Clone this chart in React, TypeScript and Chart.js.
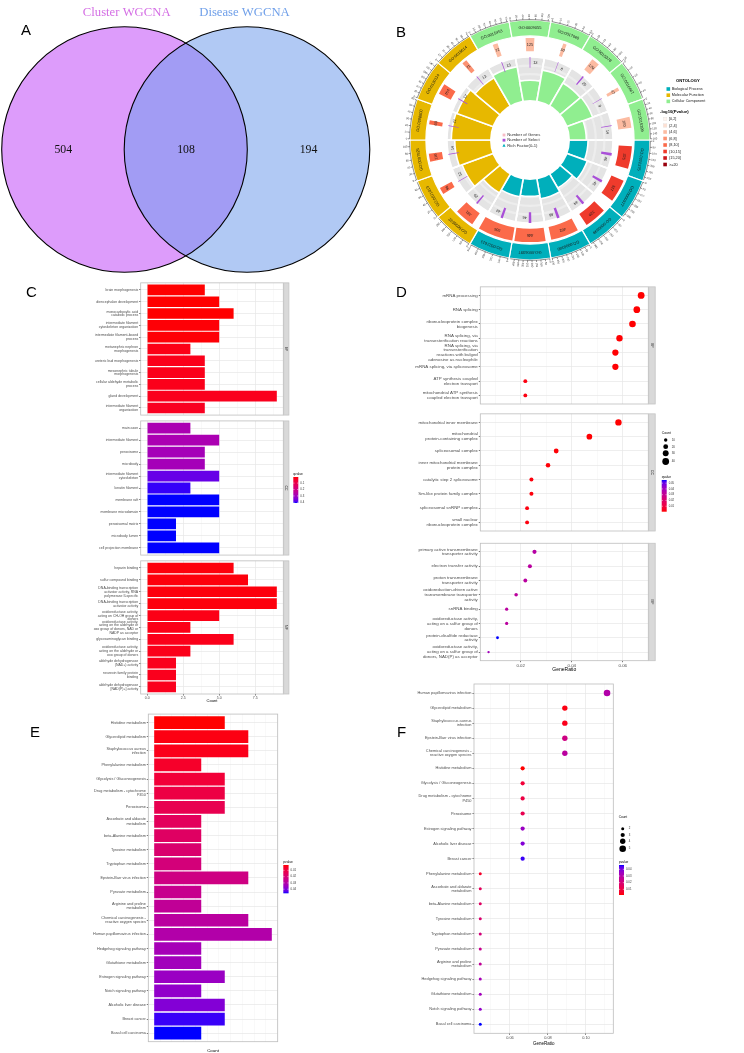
import React, { useEffect, useRef } from 'react';
import { Chart, registerables } from 'chart.js';

Chart.register(...registerables);

const SANS = "'Liberation Sans', Arial, Helvetica, sans-serif";
const SERIF = "'Liberation Serif', 'Times New Roman', Times, serif";
Chart.defaults.font.family = SANS;

/* ============================ DATA ============================ */

// Panel A – Venn diagram
const vennSetNames = ['Cluster WGCNA', 'Disease WGCNA'];
const vennRegionCounts = [504, 108, 194]; // left only, shared, right only

// Panel B – GO circle (clockwise from 3 o'clock)
const circIds = [
  'GO:0000375', 'GO:0000377', 'GO:0000398', 'GO:0008380', 'GO:0006397', 'GO:0022613',
  'GO:0030532', 'GO:0071013', 'GO:0097525', 'GO:0098800', 'GO:0120114', 'GO:0016614',
  'GO:0015453', 'GO:0009055', 'GO:0017069', 'GO:0015078', 'GO:0016667', 'GO:0015399',
];
const circOntology = [
  'BP', 'BP', 'BP', 'BP', 'BP', 'BP',
  'MF', 'MF', 'MF', 'MF', 'MF', 'MF',
  'CC', 'CC', 'CC', 'CC', 'CC', 'CC',
];
const circGenes = [325, 327, 320, 402, 446, 506, 281, 96, 116, 60, 154, 71, 72, 125, 50, 120, 47, 160];
const circSelect = [46, 45, 44, 48, 46, 42, 29, 12, 14, 11, 17, 13, 13, 13, 8, 25, 9, 14];
const circRichFactor = [0.42, 0.49, 0.36, 0.46, 0.38, 0.41, 0.49, 0.75, 0.82, 0.9, 0.88, 0.74, 0.8, 0.46, 0.72, 0.6, 0.62, 0.38];
const circLogP = [14, 13, 13, 9, 9, 9, 9, 9, 9, 9, 9, 7, 5, 5, 5, 5, 5, 5];
const logPBinLabels = ['[0,2]', '(2,4]', '(4,6]', '(6,8]', '(8,10]', '(10,15]', '(15,20]', '>=20'];
const logPBinEdges = [2, 4, 6, 8, 10, 15, 20];
const ontologyKeys = ['BP', 'MF', 'CC'];
const ontologyNames = ['Biological Process', 'Molecular Function', 'Cellular Component'];

// Panel C – GO enrichment bar chart (three facets)
const cBpTerms = [
  'brain morphogenesis', 'diencephalon development', 'monocarboxylic acid\ncatabolic process',
  'intermediate filament\ncytoskeleton organization', 'intermediate filament-based\nprocess',
  'metanephric nephron\nmorphogenesis', 'ureteric bud morphogenesis', 'mesonephric tubule\nmorphogenesis',
  'cellular aldehyde metabolic\nprocess', 'gland development', 'intermediate filament\norganization',
];
const cBpCount = [4, 5, 6, 5, 5, 3, 4, 4, 4, 9, 4];
const cBpQ = [0.005, 0.005, 0.005, 0.009, 0.009, 0.021, 0.025, 0.025, 0.025, 0.029, 0.033];
const cCcTerms = [
  'main axon', 'intermediate filament', 'peroxisome', 'microbody', 'intermediate filament\ncytoskeleton',
  'keratin filament', 'membrane raft', 'membrane microdomain', 'peroxisomal matrix', 'microbody lumen',
  'cell projection membrane',
];
const cCcCount = [3, 5, 4, 4, 5, 3, 5, 5, 2, 2, 5];
const cCcQ = [0.28, 0.28, 0.29, 0.29, 0.37, 0.4, 0.41, 0.41, 0.41, 0.41, 0.41];
const cMfTerms = [
  'heparin binding', 'sulfur compound binding',
  'DNA-binding transcription\nactivator activity, RNA\npolymerase II-specific',
  'DNA-binding transcription\nactivator activity',
  'oxidoreductase activity,\nacting on CH-OH group of\ndonors',
  'oxidoreductase activity,\nacting on the aldehyde or\noxo group of donors, NAD or\nNADP as acceptor',
  'glycosaminoglycan binding',
  'oxidoreductase activity,\nacting on the aldehyde or\noxo group of donors',
  'aldehyde dehydrogenase\n(NAD+) activity', 'neurexin family protein\nbinding',
  'aldehyde dehydrogenase\n[NAD(P)+] activity',
];
const cMfCount = [6, 7, 9, 9, 5, 3, 6, 3, 2, 2, 2];
const cMfQ = [0.013, 0.013, 0.013, 0.013, 0.021, 0.021, 0.025, 0.025, 0.029, 0.029, 0.029];
const cTicks = [0.1, 0.2, 0.3, 0.4];

// Panel D – GO enrichment dot plot (three facets)
const dBpTerms = [
  'mRNA processing', 'RNA splicing', 'ribonucleoprotein complex\nbiogenesis',
  'RNA splicing, via\ntransesterification reactions',
  'RNA splicing, via\ntransesterification\nreactions with bulged\nadenosine as nucleophile',
  'mRNA splicing, via spliceosome', 'ATP synthesis coupled\nelectron transport',
  'mitochondrial ATP synthesis\ncoupled electron transport',
];
const dBpRatio = [0.0672, 0.0655, 0.0638, 0.0587, 0.0571, 0.0571, 0.0218, 0.0218];
const dBpCount = [40, 39, 38, 35, 34, 34, 13, 13];
const dBpQ = [0.0005, 0.0006, 0.0006, 0.0007, 0.0008, 0.0008, 0.002, 0.002];
const dCcTerms = [
  'mitochondrial inner membrane', 'mitochondrial\nprotein-containing complex', 'spliceosomal complex',
  'inner mitochondrial membrane\nprotein complex', 'catalytic step 2 spliceosome',
  'Sm-like protein family complex', 'spliceosomal snRNP complex', 'small nuclear\nribonucleoprotein complex',
];
const dCcRatio = [0.0583, 0.0469, 0.0339, 0.0307, 0.0242, 0.0242, 0.0225, 0.0225];
const dCcCount = [35, 28, 20, 18, 14, 14, 13, 13];
const dCcQ = [0.0006, 0.0008, 0.001, 0.0012, 0.0015, 0.0015, 0.0018, 0.0018];
const dMfTerms = [
  'primary active transmembrane\ntransporter activity', 'electron transfer activity',
  'proton transmembrane\ntransporter activity',
  'oxidoreduction-driven active\ntransmembrane transporter\nactivity', 'snRNA binding',
  'oxidoreductase activity,\nacting on a sulfur group of\ndonors', 'protein-disulfide reductase\nactivity',
  'oxidoreductase activity,\nacting on a sulfur group of\ndonors, NAD(P) as acceptor',
];
const dMfRatio = [0.0254, 0.0236, 0.0218, 0.0182, 0.0145, 0.0145, 0.0109, 0.0074];
const dMfCount = [15, 14, 13, 11, 9, 9, 7, 5];
const dMfQ = [0.0346, 0.0335, 0.0335, 0.033, 0.0335, 0.0335, 0.0555, 0.0401];
const dCountLegend = [10, 20, 30, 40];
const dTicks = [0.01, 0.02, 0.03, 0.04, 0.05];

// Panels E/F – KEGG pathways
const keggTerms = [
  'Histidine metabolism', 'Glycerolipid metabolism', 'Staphylococcus aureus\ninfection',
  'Phenylalanine metabolism', 'Glycolysis / Gluconeogenesis', 'Drug metabolism - cytochrome\nP450',
  'Peroxisome', 'Ascorbate and aldarate\nmetabolism', 'beta-Alanine metabolism', 'Tyrosine metabolism',
  'Tryptophan metabolism', 'Epstein-Barr virus infection', 'Pyruvate metabolism',
  'Arginine and proline\nmetabolism', 'Chemical carcinogenesis -\nreactive oxygen species',
  'Human papillomavirus infection', 'Hedgehog signaling pathway', 'Glutathione metabolism',
  'Estrogen signaling pathway', 'Notch signaling pathway', 'Alcoholic liver disease', 'Breast cancer',
  'Basal cell carcinoma',
];
const keggCount = [3, 4, 4, 2, 3, 3, 3, 2, 2, 2, 2, 4, 2, 2, 4, 5, 2, 2, 3, 2, 3, 3, 2];
const keggRatio = [0.0667, 0.0889, 0.0889, 0.0444, 0.0667, 0.0667, 0.0667, 0.0444, 0.0444, 0.0444, 0.0444, 0.0889, 0.0444, 0.0444, 0.0889, 0.1111, 0.0444, 0.0444, 0.0667, 0.0444, 0.0667, 0.0667, 0.0444];
const keggP = [0.0015, 0.0029, 0.0038, 0.006, 0.0083, 0.0105, 0.0128, 0.015, 0.0164, 0.0186, 0.0209, 0.0227, 0.0249, 0.0267, 0.0285, 0.0303, 0.033, 0.0339, 0.0353, 0.0366, 0.0389, 0.0452, 0.0465];
const keggTicks = [0.01, 0.02, 0.03, 0.04];
const fCountLegend = [2, 3, 4, 5];

/* ============================ STYLE ============================ */
const ONT_COLOR: any = { BP: '#00AFBB', MF: '#E7B800', CC: '#90EE90' };
const REDS = ['#FFF5F0', '#FEE0D2', '#FCBBA1', '#FC9272', '#FB6A4A', '#EF3B2C', '#CB181D', '#99000D'];
const AXIS_TXT = '#4d4d4d';

/* ============================ COLOUR ============================ */
function s2l(c: number) { c /= 255; return c <= 0.04045 ? c / 12.92 : Math.pow((c + 0.055) / 1.055, 2.4); }
function l2s(v: number) {
  v = Math.max(0, Math.min(1, v));
  const s = v <= 0.0031308 ? 12.92 * v : 1.055 * Math.pow(v, 1 / 2.4) - 0.055;
  return Math.round(s * 255);
}
function rgbToLab(rgb: number[]) {
  const R = s2l(rgb[0]), G = s2l(rgb[1]), B = s2l(rgb[2]);
  const X = (0.4124 * R + 0.3576 * G + 0.1805 * B) / 0.95047;
  const Y = 0.2126 * R + 0.7152 * G + 0.0722 * B;
  const Z = (0.0193 * R + 0.1192 * G + 0.9505 * B) / 1.08883;
  const f = (t: number) => (t > 0.008856 ? Math.cbrt(t) : 7.787 * t + 16 / 116);
  const fx = f(X), fy = f(Y), fz = f(Z);
  return [116 * fy - 16, 500 * (fx - fy), 200 * (fy - fz)];
}
function labToRgb(lab: number[]) {
  const fy = (lab[0] + 16) / 116, fx = fy + lab[1] / 500, fz = fy - lab[2] / 200;
  const fi = (t: number) => (t * t * t > 0.008856 ? t * t * t : (t - 16 / 116) / 7.787);
  const X = 0.95047 * fi(fx), Y = fi(fy), Z = 1.08883 * fi(fz);
  return [
    l2s(3.2406 * X - 1.5372 * Y - 0.4986 * Z),
    l2s(-0.9689 * X + 1.8758 * Y + 0.0415 * Z),
    l2s(0.0557 * X - 0.204 * Y + 1.057 * Z),
  ];
}
const LAB_R = rgbToLab([255, 0, 0]);
const LAB_B = rgbToLab([0, 0, 255]);
function redBlue(t: number) {
  t = Math.max(0, Math.min(1, t));
  const c = labToRgb(LAB_R.map((v, i) => v + (LAB_B[i] - v) * t));
  return `rgb(${c[0]},${c[1]},${c[2]})`;
}
function rangeOf(vals: number[]) { return [Math.min(...vals), Math.max(...vals)]; }
function colorScale(vals: number[]) {
  const [lo, hi] = rangeOf(vals);
  return (v: number) => redBlue((v - lo) / (hi - lo));
}
function logPColor(v: number) {
  let k = 0;
  while (k < logPBinEdges.length && v > logPBinEdges[k]) k++;
  return REDS[k];
}

/* ============================ HELPERS ============================ */
type Box = [number, number, number, number];

function ChartBox({ box, make }: { box: Box; make: () => any }) {
  const ref = useRef<HTMLCanvasElement>(null);
  useEffect(() => {
    const chart = new Chart(ref.current as HTMLCanvasElement, make());
    return () => chart.destroy();
  }, []);
  const [x, y, w, h] = box;
  return (
    <canvas
      ref={ref}
      width={w}
      height={h}
      style={{ position: 'absolute', left: x, top: y, width: w, height: h }}
    />
  );
}

function drawColorbar(ctx: any, o: any) {
  const { title, x, y0, y1, w, vTop, vBot, colorOf, ticks, dec, font } = o;
  ctx.save();
  ctx.fillStyle = '#000';
  ctx.font = `${font + 0.4}px ${SANS}`;
  ctx.textAlign = 'left';
  ctx.textBaseline = 'alphabetic';
  ctx.fillText(title, x, y0 - 2);
  const g = ctx.createLinearGradient(0, y0, 0, y1);
  for (let k = 0; k <= 20; k++) g.addColorStop(k / 20, colorOf(vTop + ((vBot - vTop) * k) / 20));
  ctx.fillStyle = g;
  ctx.fillRect(x, y0, w, y1 - y0);
  ctx.textBaseline = 'middle';
  ctx.font = `${font}px ${SANS}`;
  ticks.forEach((v: number) => {
    const y = y0 + ((v - vTop) / (vBot - vTop)) * (y1 - y0);
    ctx.strokeStyle = '#fff';
    ctx.lineWidth = 0.5;
    ctx.beginPath(); ctx.moveTo(x, y); ctx.lineTo(x + 1.2, y); ctx.moveTo(x + w - 1.2, y); ctx.lineTo(x + w, y); ctx.stroke();
    ctx.fillStyle = '#333';
    ctx.fillText(v.toFixed(dec), x + w + 2, y);
  });
  ctx.restore();
}

function drawSizeLegend(ctx: any, o: any) {
  const { title, x, ty, ys, values, radius, font } = o;
  ctx.save();
  ctx.fillStyle = '#000';
  ctx.font = `${font + 0.4}px ${SANS}`;
  ctx.textBaseline = 'middle';
  ctx.fillText(title, x - 4, ty);
  values.forEach((v: number, i: number) => {
    ctx.fillStyle = '#000';
    ctx.beginPath(); ctx.arc(x, ys[i], radius(v), 0, Math.PI * 2); ctx.fill();
    ctx.fillStyle = '#333';
    ctx.font = `${font}px ${SANS}`;
    ctx.fillText(String(v), x + 6, ys[i]);
  });
  ctx.restore();
}

function facetChart(p: any) {
  const [bx, by, bw, bh] = p.box as Box;
  const [l, t, r, b] = p.area as number[];
  const n = p.terms.length;
  const isMajor = (v: number) => Math.abs(v / p.major - Math.round(v / p.major)) < 1e-6;
  const data = p.xs.map((x: number, i: number) => (p.kind === 'bar' ? { x, y: i } : { x, y: i, r: p.radii[i] }));
  return {
    type: p.kind === 'bar' ? 'bar' : 'bubble',
    data: {
      datasets: [{
        data,
        backgroundColor: p.colors,
        borderWidth: 0,
        barPercentage: 0.9,
        categoryPercentage: 1,
      }],
    },
    options: {
      indexAxis: p.kind === 'bar' ? 'y' : 'x',
      responsive: false,
      animation: false,
      devicePixelRatio: 1,
      layout: { padding: { left: 0, top: t - by, right: bx + bw - r, bottom: 0 } },
      plugins: { legend: { display: false }, tooltip: { enabled: false } },
      scales: {
        x: {
          type: 'linear', min: p.xMin, max: p.xMax, position: 'bottom', offset: false,
          ticks: {
            stepSize: p.step, includeBounds: false, autoSkip: false, maxRotation: 0, maxTicksLimit: 100,
            display: p.showX, font: { size: p.font }, color: AXIS_TXT, padding: 0.5,
            callback: (v: number) => (isMajor(v) ? v.toFixed(p.dec) : ''),
          },
          grid: {
            offset: false,
            color: (c: any) => (isMajor(c.tick.value) ? '#e6e6e6' : '#f3f3f3'),
            lineWidth: (c: any) => (isMajor(c.tick.value) ? 0.7 : 0.5),
            drawTicks: p.showX, tickLength: 1.5,
            tickColor: (c: any) => (isMajor(c.tick.value) ? '#333' : 'rgba(0,0,0,0)'),
          },
          border: { display: false },
          title: { display: p.showX, text: p.xTitle, font: { size: p.font + 0.6 }, color: '#000', padding: 0 },
          afterFit: (s: any) => { s.height = by + bh - b; },
        },
        y: {
          type: 'linear', min: -0.6, max: n - 0.4, reverse: true, offset: false,
          afterBuildTicks: (s: any) => { s.ticks = p.terms.map((_: any, i: number) => ({ value: i })); },
          ticks: {
            autoSkip: false, font: { size: p.font, lineHeight: 1.1 }, color: AXIS_TXT, padding: 1,
            callback: (v: number) => (p.terms[v] ? p.terms[v].split('\n') : ''),
          },
          grid: { offset: false, color: '#e6e6e6', lineWidth: 0.7, drawTicks: true, tickLength: 1.5, tickColor: '#333' },
          border: { display: false },
          afterFit: (s: any) => { s.width = l - bx; },
        },
      },
    },
    plugins: [{
      id: 'panelDeco',
      afterDraw(chart: any) {
        const { ctx, chartArea: a } = chart;
        ctx.save();
        ctx.strokeStyle = '#bdbdbd';
        ctx.lineWidth = 0.8;
        ctx.strokeRect(a.left, a.top, a.right - a.left, a.bottom - a.top);
        if (p.strip) {
          ctx.fillStyle = '#d9d9d9';
          ctx.fillRect(a.right + 0.4, a.top, p.stripW, a.bottom - a.top);
          ctx.strokeStyle = '#c4c4c4';
          ctx.strokeRect(a.right + 0.4, a.top, p.stripW, a.bottom - a.top);
          ctx.translate(a.right + 0.4 + p.stripW / 2, (a.top + a.bottom) / 2);
          ctx.rotate(Math.PI / 2);
          ctx.fillStyle = '#1a1a1a';
          ctx.font = `3.4px ${SANS}`;
          ctx.textAlign = 'center';
          ctx.textBaseline = 'middle';
          ctx.fillText(p.strip, 0, 0);
        }
        ctx.restore();
        if (p.extra) {
          ctx.save();
          ctx.translate(-bx, -by);
          p.extra(ctx);
          ctx.restore();
        }
      },
    }],
  };
}

/* ============================ PANEL A ============================ */
function vennConfig() {
  return {
    type: 'scatter',
    data: { datasets: [{ data: [] }] },
    options: {
      responsive: false, animation: false, devicePixelRatio: 1,
      layout: { padding: 0 },
      plugins: { legend: { display: false }, tooltip: { enabled: false } },
      scales: {
        x: { type: 'linear', min: 0, max: 372, display: false },
        y: { type: 'linear', min: 0, max: 290, reverse: true, display: false },
      },
    },
    plugins: [{
      id: 'venn',
      afterDraw(chart: any) {
        const { ctx } = chart;
        const X = (v: number) => chart.scales.x.getPixelForValue(v);
        const Y = (v: number) => chart.scales.y.getPixelForValue(v);
        const rad = (v: number) => X(v) - X(0);
        const L = { x: 124.5, y: 149.5, r: 122.8 };
        const R = { x: 247, y: 149.5, r: 122.8 };
        const circle = (c: any) => { ctx.beginPath(); ctx.arc(X(c.x), Y(c.y), rad(c.r), 0, Math.PI * 2); };
        ctx.save();
        ctx.fillStyle = '#dd9cfb'; circle(L); ctx.fill();
        ctx.fillStyle = '#b1c9f4'; circle(R); ctx.fill();
        ctx.save(); circle(L); ctx.clip(); ctx.fillStyle = '#a29cf4'; circle(R); ctx.fill(); ctx.restore();
        ctx.strokeStyle = '#000'; ctx.lineWidth = 1.1;
        circle(L); ctx.stroke(); circle(R); ctx.stroke();
        ctx.textAlign = 'center';
        ctx.textBaseline = 'alphabetic';
        ctx.font = `12.7px ${SERIF}`;
        ctx.fillStyle = '#d46ee4'; ctx.fillText(vennSetNames[0], X(126.7), Y(15.8));
        ctx.fillStyle = '#6f9fe9'; ctx.fillText(vennSetNames[1], X(244.5), Y(15.8));
        ctx.fillStyle = '#111';
        ctx.font = `11.8px ${SERIF}`;
        ctx.textBaseline = 'middle';
        ctx.fillText(String(vennRegionCounts[0]), X(63.3), Y(150));
        ctx.fillText(String(vennRegionCounts[1]), X(186), Y(150));
        ctx.fillText(String(vennRegionCounts[2]), X(308.5), Y(150));
        ctx.restore();
      },
    }],
  };
}

/* ============================ PANEL B ============================ */
const HOLE_R = 40;
function niceStep(raw: number) {
  const pw = Math.pow(10, Math.floor(Math.log10(raw)));
  const m = raw / pw;
  const k = m < 1.5 ? 1 : m < 3.5 ? 2 : m < 7.5 ? 5 : 10;
  return k * pw;
}

function polarConfig() {
  return {
    type: 'polarArea',
    data: {
      labels: circIds,
      datasets: [
        { data: circRichFactor, backgroundColor: circOntology.map((o) => ONT_COLOR[o]), borderColor: '#fff', borderWidth: 1.6 },
        { data: circIds.map(() => 1), backgroundColor: '#e4e4e4', borderColor: '#fff', borderWidth: 1.6 },
      ],
    },
    options: {
      responsive: false, animation: false, devicePixelRatio: 1,
      layout: { padding: 0 },
      plugins: { legend: { display: false }, tooltip: { enabled: false } },
      scales: { r: { display: false, min: -HOLE_R / 43, max: 1, startAngle: 90 } },
    },
    plugins: [{
      id: 'trackGrid',
      afterDatasetDraw(chart: any, args: any) {
        if (args.index !== 1) return;
        const ctx = chart.ctx;
        const sc = chart.scales.r;
        ctx.save();
        ctx.strokeStyle = '#ededed';
        ctx.lineWidth = 2.2;
        [0.2, 0.4, 0.6, 0.8].forEach((v) => {
          ctx.beginPath();
          ctx.arc(sc.xCenter, sc.yCenter, sc.getDistanceFromCenterForValue(v), 0, Math.PI * 2);
          ctx.stroke();
        });
        ctx.strokeStyle = '#fff';
        ctx.lineWidth = 1.6;
        const n = circIds.length;
        for (let i = 0; i < n; i++) {
          const a = (i / n) * Math.PI * 2;
          ctx.beginPath();
          ctx.moveTo(sc.xCenter, sc.yCenter);
          ctx.lineTo(sc.xCenter + Math.cos(a) * 90, sc.yCenter + Math.sin(a) * 90);
          ctx.stroke();
        }
        ctx.restore();
      },
    }],
  };
}

function ringConfig() {
  const maxGenes = Math.max(...circGenes);
  const clear = 'rgba(0,0,0,0)';
  const triple = (w: number) => [(maxGenes - w) / 2, w, (maxGenes - w) / 2];
  const spacer = { data: circIds.map(() => 1), backgroundColor: clear, borderWidth: 0 };
  return {
    type: 'doughnut',
    data: {
      labels: circIds,
      datasets: [
        { data: circIds.map(() => 1), backgroundColor: circOntology.map((o) => ONT_COLOR[o]), borderColor: '#fff', borderWidth: 1.2, weight: 12 },
        { ...spacer, weight: 1.5 },
        {
          data: circGenes.flatMap(triple),
          backgroundColor: circLogP.flatMap((v) => [clear, logPColor(v), clear]),
          borderWidth: 0, weight: 10,
        },
        { ...spacer, weight: 4.5 },
        {
          data: circSelect.flatMap(triple),
          backgroundColor: circSelect.flatMap(() => [clear, '#a94fd8', clear]),
          borderWidth: 0, weight: 8,
        },
      ],
    },
    options: {
      responsive: false, animation: false, devicePixelRatio: 1,
      rotation: 90, radius: 120, cutout: 84,
      layout: { padding: { right: 54 } },
      plugins: { legend: { display: false }, tooltip: { enabled: false } },
    },
    plugins: [{
      id: 'circDeco',
      afterDatasetsDraw(chart: any) {
        const ctx = chart.ctx;
        const band = chart.getDatasetMeta(0).data;
        const gArcs = chart.getDatasetMeta(2).data;
        const sArcs = chart.getDatasetMeta(4).data;
        const cx = band[0].x, cy = band[0].y;
        ctx.save();
        ctx.fillStyle = '#fff';
        ctx.beginPath(); ctx.arc(cx, cy, HOLE_R, 0, Math.PI * 2); ctx.fill();
        const tang = (txt: string, ang: number, r: number, size: number) => {
          ctx.save();
          ctx.translate(cx, cy);
          ctx.rotate(ang + Math.PI / 2);
          ctx.font = `${size}px ${SANS}`;
          ctx.fillStyle = '#1a1a1a';
          ctx.textAlign = 'center';
          ctx.textBaseline = 'middle';
          ctx.fillText(txt, 0, -r);
          ctx.restore();
        };
        circIds.forEach((id, i) => {
          const a = band[i];
          const s = a.startAngle, e = a.endAngle, R = a.outerRadius;
          tang(id, (s + e) / 2, (a.innerRadius + R) / 2, 4);
          ctx.strokeStyle = '#222';
          ctx.lineWidth = 0.5;
          ctx.beginPath(); ctx.arc(cx, cy, R + 0.4, s + 0.01, e - 0.01); ctx.stroke();
          const N = circGenes[i];
          const st = niceStep(N / 6);
          for (let v = 0; v <= N + 1e-9; v += st) {
            const ang = s + 0.01 + (v / N) * (e - s - 0.02);
            const c = Math.cos(ang), sn = Math.sin(ang);
            ctx.beginPath();
            ctx.moveTo(cx + c * (R + 0.4), cy + sn * (R + 0.4));
            ctx.lineTo(cx + c * (R + 2.2), cy + sn * (R + 2.2));
            ctx.stroke();
            ctx.save();
            ctx.translate(cx + c * (R + 2.8), cy + sn * (R + 2.8));
            const flip = c < -0.01;
            ctx.rotate(flip ? ang + Math.PI : ang);
            ctx.font = `2.7px ${SANS}`;
            ctx.fillStyle = '#333';
            ctx.textBaseline = 'middle';
            ctx.textAlign = flip ? 'right' : 'left';
            ctx.fillText(String(v), 0, 0);
            ctx.restore();
          }
          const g = gArcs[3 * i + 1];
          tang(String(circGenes[i]), (g.startAngle + g.endAngle) / 2, (g.innerRadius + g.outerRadius) / 2, 3.8);
          const sa = sArcs[3 * i + 1];
          tang(String(circSelect[i]), (sa.startAngle + sa.endAngle) / 2 + 0.07, (sa.innerRadius + sa.outerRadius) / 2, 3.8);
        });
        // centre legend
        const items = [
          ['Number of Genes', '#f7bcc6', 'sq'],
          ['Number of Select', '#a94fd8', 'sq'],
          ['Rich Factor(0-1)', ONT_COLOR.BP, 'tri'],
        ];
        items.forEach((it, k) => {
          const y = cy - 5 + k * 5.2;
          const x = cx - 26;
          ctx.fillStyle = it[1];
          if (it[2] === 'sq') ctx.fillRect(x - 1.4, y - 1.4, 2.8, 2.8);
          else { ctx.beginPath(); ctx.moveTo(x, y - 1.6); ctx.lineTo(x + 1.6, y + 1.3); ctx.lineTo(x - 1.6, y + 1.3); ctx.fill(); }
          ctx.fillStyle = '#333';
          ctx.font = `4.2px ${SANS}`;
          ctx.textAlign = 'left';
          ctx.textBaseline = 'middle';
          ctx.fillText(it[0], x + 3.2, y);
        });
        // right legend (page coords -> canvas coords: x - 370)
        const ox = -370;
        ctx.fillStyle = '#000';
        ctx.font = `bold 4.2px ${SANS}`;
        ctx.textBaseline = 'middle';
        ctx.fillText('ONTOLOGY', 676 + ox, 81);
        ontologyKeys.forEach((k, j) => {
          const y = 89 + j * 6.2;
          ctx.fillStyle = ONT_COLOR[k];
          ctx.fillRect(666.5 + ox, y - 1.8, 3.6, 3.6);
          ctx.fillStyle = '#222';
          ctx.font = `3.8px ${SANS}`;
          ctx.fillText(ontologyNames[j], 671.7 + ox, y);
        });
        ctx.fillStyle = '#000';
        ctx.font = `bold 4.2px ${SANS}`;
        ctx.fillText('-log10(Pvalue)', 660 + ox, 112.3);
        logPBinLabels.forEach((lab, j) => {
          const y = 119 + j * 6.5;
          ctx.fillStyle = REDS[j];
          ctx.fillRect(663.3 + ox, y - 1.8, 3.6, 3.6);
          ctx.strokeStyle = '#ddd';
          ctx.lineWidth = 0.3;
          if (j < 2) ctx.strokeRect(663.3 + ox, y - 1.8, 3.6, 3.6);
          ctx.fillStyle = '#222';
          ctx.font = `3.8px ${SANS}`;
          ctx.fillText(lab, 669 + ox, y);
        });
        ctx.restore();
      },
    }],
  };
}

/* ============================ CONFIG BUILDERS ============================ */
const cAllQ = [...cBpQ, ...cCcQ, ...cMfQ];
const cColor = colorScale(cAllQ);
const dAllQ = [...dBpQ, ...dCcQ, ...dMfQ];
const dColor = colorScale(dAllQ);
const keggColor = colorScale(keggP);
const dRadius = (c: number) => 1.2 + (2.2 * (Math.sqrt(c) - Math.sqrt(5))) / (Math.sqrt(40) - Math.sqrt(5));
const fRadius = (c: number) => 1.5 + (1.8 * (c - 2)) / 3;

const C_COMMON = { kind: 'bar', xMin: -0.45, xMax: 9.45, step: 1.25, major: 2.5, dec: 1, font: 3.5, strip: true, stripW: 5.2, xTitle: 'Count' };
const D_COMMON = { kind: 'dot', xMin: 0.00416, xMax: 0.07, step: 0.01, major: 0.02, dec: 2, font: 4.4, stripW: 6.5, xTitle: 'GeneRatio' };

const fOrder = keggTerms.map((_, i) => i).sort((a, b) => keggCount[b] - keggCount[a] || keggP[a] - keggP[b]);

export default function App() {
  useEffect(() => {
    document.body.style.margin = '0';
    document.body.style.background = '#fff';
  }, []);
  const letter = (t: string, x: number, y: number) => (
    <div style={{ position: 'absolute', left: x, top: y, fontFamily: SANS, fontSize: 15, lineHeight: '15px', color: '#000' }}>{t}</div>
  );
  return (
    <div style={{ position: 'relative', width: 744, height: 1053, background: '#fff', overflow: 'hidden' }}>
      <ChartBox box={[0, 0, 372, 290]} make={vennConfig} />
      <ChartBox box={[447, 57, 166, 166]} make={polarConfig} />
      <ChartBox box={[370, 0, 374, 280]} make={ringConfig} />

      {/* Panel C */}
      <ChartBox box={[20, 278, 300, 140]} make={() => facetChart({
        ...C_COMMON, strip: 'BP', terms: cBpTerms, xs: cBpCount, colors: cBpQ.map(cColor),
        box: [20, 278, 300, 140], area: [140.7, 280.7, 283.3, 416.7], showX: false,
      })} />
      <ChartBox box={[20, 418, 300, 140]} make={() => facetChart({
        ...C_COMMON, strip: 'CC', terms: cCcTerms, xs: cCcCount, colors: cCcQ.map(cColor),
        box: [20, 418, 300, 140], area: [140.7, 419.3, 283.3, 555.3], showX: false,
        extra: (ctx: any) => {
          const [lo, hi] = rangeOf(cAllQ);
          drawColorbar(ctx, { title: 'qvalue', x: 293.3, y0: 477, y1: 503, w: 5, vTop: lo, vBot: hi, colorOf: cColor, ticks: cTicks, dec: 1, font: 2.8 });
        },
      })} />
      <ChartBox box={[20, 556, 300, 147]} make={() => facetChart({
        ...C_COMMON, strip: 'MF', terms: cMfTerms, xs: cMfCount, colors: cMfQ.map(cColor),
        box: [20, 556, 300, 147], area: [140.7, 557.3, 283.3, 694], showX: true,
      })} />

      {/* Panel D */}
      <ChartBox box={[405, 281, 290, 127]} make={() => facetChart({
        ...D_COMMON, strip: 'BP', terms: dBpTerms, xs: dBpRatio, radii: dBpCount.map(dRadius), colors: dBpQ.map(dColor),
        box: [405, 281, 290, 127], area: [480.3, 282.7, 648.3, 406], showX: false,
      })} />
      <ChartBox box={[405, 408, 290, 127]} make={() => facetChart({
        ...D_COMMON, strip: 'CC', terms: dCcTerms, xs: dCcRatio, radii: dCcCount.map(dRadius), colors: dCcQ.map(dColor),
        box: [405, 408, 290, 127], area: [480.3, 409.3, 648.3, 532.7], showX: false,
        extra: (ctx: any) => {
          drawSizeLegend(ctx, { title: 'Count', x: 665.7, ty: 433.3, ys: [440, 446.7, 453.3, 461.5], values: dCountLegend, radius: dRadius, font: 3 });
          const [lo, hi] = rangeOf(dAllQ);
          drawColorbar(ctx, { title: 'qvalue', x: 661.7, y0: 480, y1: 511.7, w: 5, vTop: hi, vBot: lo, colorOf: dColor, ticks: dTicks, dec: 2, font: 2.8 });
        },
      })} />
      <ChartBox box={[405, 535, 290, 138]} make={() => facetChart({
        ...D_COMMON, strip: 'MF', terms: dMfTerms, xs: dMfRatio, radii: dMfCount.map(dRadius), colors: dMfQ.map(dColor),
        box: [405, 535, 290, 138], area: [480.3, 536, 648.3, 660.7], showX: true,
      })} />

      {/* Panel E */}
      <ChartBox box={[40, 711, 270, 342]} make={() => facetChart({
        kind: 'bar', xMin: -0.25, xMax: 5.25, step: 0.5, major: 1, dec: 0, font: 3.8, xTitle: 'Count',
        terms: keggTerms, xs: keggCount, colors: keggP.map(keggColor),
        box: [40, 711, 270, 342], area: [148.3, 713, 277.7, 1041.7], showX: true,
        extra: (ctx: any) => {
          const [lo, hi] = rangeOf(keggP);
          drawColorbar(ctx, { title: 'pvalue', x: 283.3, y0: 865, y1: 893.3, w: 5.3, vTop: lo, vBot: hi, colorOf: keggColor, ticks: keggTicks, dec: 2, font: 2.8 });
        },
      })} />

      {/* Panel F */}
      <ChartBox box={[412, 680, 243, 366]} make={() => facetChart({
        kind: 'dot', xMin: 0.0411, xMax: 0.1144, step: 0.01, major: 0.02, dec: 2, font: 3.9, xTitle: 'GeneRatio',
        terms: fOrder.map((i) => keggTerms[i]), xs: fOrder.map((i) => keggRatio[i]),
        radii: fOrder.map((i) => fRadius(keggCount[i])), colors: fOrder.map((i) => keggColor(keggP[i])),
        box: [412, 680, 243, 366], area: [474, 681.7, 613.3, 1033.3], showX: true,
        extra: (ctx: any) => {
          drawSizeLegend(ctx, { title: 'Count', x: 622.7, ty: 816.7, ys: [828.7, 835, 841.3, 848.7], values: fCountLegend, radius: fRadius, font: 2.8 });
          const [lo, hi] = rangeOf(keggP);
          drawColorbar(ctx, { title: 'pvalue', x: 619, y0: 865, y1: 895, w: 5, vTop: hi, vBot: lo, colorOf: keggColor, ticks: keggTicks, dec: 2, font: 2.8 });
        },
      })} />

      {letter('A', 21, 22)}
      {letter('B', 396, 24)}
      {letter('C', 26, 284)}
      {letter('D', 396, 284)}
      {letter('E', 30, 724)}
      {letter('F', 397, 724)}
    </div>
  );
}
